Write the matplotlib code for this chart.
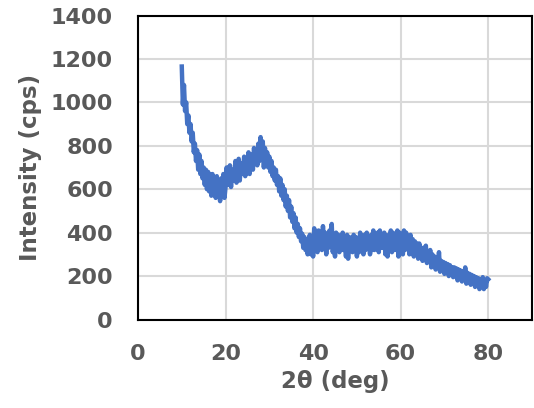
import matplotlib
matplotlib.use("Agg")
import matplotlib.pyplot as plt
import numpy as np

# 2-theta from 10 to 80 deg, step 0.25
two_theta_start = 10.0
two_theta_step = 0.25
intensity = [
    1165, 990, 1080, 960,
    1000, 900, 940, 860,
    900, 820, 860, 770,
    810, 730, 780, 690,
    760, 670, 730, 650,
    700, 620, 690, 600,
    680, 590, 670, 570,
    670, 590, 650, 560,
    660, 580, 640, 545,
    650, 590, 670, 560,
    610, 700, 620, 660,
    710, 610, 690, 640,
    650, 730, 630, 700,
    740, 640, 720, 670,
    690, 750, 660, 740,
    700, 770, 670, 760,
    750, 690, 790, 720,
    780, 710, 810, 730,
    840, 740, 820, 700,
    790, 720, 770, 700,
    750, 680, 730, 660,
    700, 640, 690, 620,
    660, 590, 650, 570,
    620, 550, 600, 520,
    570, 500, 550, 470,
    520, 450, 490, 420,
    470, 400, 440, 380,
    420, 360, 395, 330,
    380, 320, 370, 300,
    360, 390, 300, 370,
    290, 420, 320, 390,
    310, 410, 340, 390,
    320, 430, 350, 400,
    300, 390, 330, 410,
    340, 440, 310, 380,
    290, 400, 330, 390,
    310, 380, 320, 400,
    320, 370, 290, 390,
    280, 380, 320, 370,
    310, 390, 330, 380,
    290, 370, 310, 400,
    330, 380, 300, 390,
    320, 400, 330, 380,
    300, 390, 320, 410,
    320, 380, 330, 400,
    310, 410, 330, 390,
    330, 400, 300, 380,
    290, 390, 330, 410,
    310, 400, 320, 390,
    320, 410, 290, 400,
    330, 390, 300, 410,
    320, 400, 330, 380,
    300, 390, 320, 370,
    290, 360, 300, 350,
    280, 350, 290, 330,
    270, 330, 280, 340,
    260, 310, 270, 320,
    240, 300, 250, 290,
    230, 280, 240, 310,
    220, 270, 230, 265,
    210, 260, 220, 255,
    200, 250, 210, 240,
    195, 240, 200, 235,
    180, 230, 190, 225,
    175, 220, 185, 240,
    165, 215, 175, 210,
    160, 205, 170, 200,
    150, 195, 160, 190,
    140, 185, 150, 195,
    140, 180, 150, 190,
    185,
]
two_theta = two_theta_start + two_theta_step * np.arange(len(intensity))

x_ticks = [0, 20, 40, 60, 80]
y_ticks = [0, 200, 400, 600, 800, 1000, 1200, 1400]

plt.rcParams['font.family'] = ['DejaVu Sans']
txt_color = '#595959'

fig = plt.figure(figsize=(5.34, 4.08), dpi=100)
ax = fig.add_axes([138/534, 1 - 319.5/408, (532 - 138)/534, (319.5 - 15.5)/408])

ax.plot(two_theta, intensity, color='#4472C4', linewidth=3.2, solid_joinstyle='round', zorder=3)

ax.set_xlim(0, 90)
ax.set_ylim(0, 1400)
ax.set_xticks(x_ticks)
ax.set_yticks(y_ticks)
ax.grid(True, color='#d9d9d9', linewidth=1.5, zorder=0)
ax.set_axisbelow(True)
for s in ax.spines.values():
    s.set_color('black')
    s.set_linewidth(1.5)
ax.tick_params(length=0, labelsize=16, labelcolor=txt_color, pad=18)
for lab in ax.get_xticklabels() + ax.get_yticklabels():
    lab.set_fontweight('bold')

ax.set_xlabel('2θ (deg)', fontsize=16.5, fontweight='bold', color=txt_color, labelpad=4)
ax.set_ylabel('Intensity (cps)', fontsize=16.5, fontweight='bold', color=txt_color, labelpad=6)

fig.savefig('out.png', dpi=100)
